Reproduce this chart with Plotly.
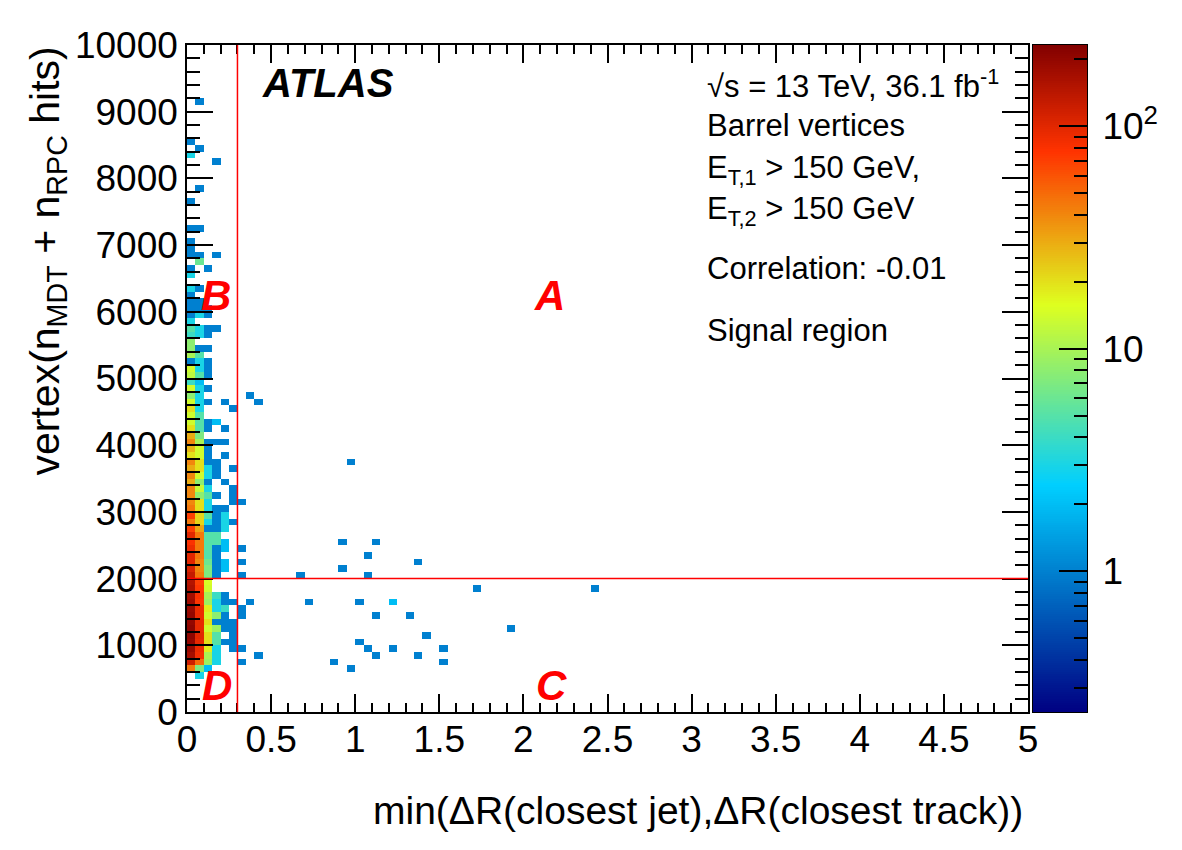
import numpy as np
import plotly.graph_objects as go

# ---------------- data ----------------
X_EDGES = np.round(np.arange(0, 5.0001, 0.05), 3)      # min dR bins
Y_EDGES = np.arange(0, 10001, 100)                       # hits bins

# counts in the first six dR columns, one value per 100-hit bin starting at 0
col_000 = [0,0,0,0,0,0,45,120,170,190, 200,210,210,200,200,190,180,170,160,150,
           130,110,100,100,90,80,100,70,45,70, 45,40,40,40,30,40,30,40,20,28,
           40,30,20,14,14,20,14,8,14,4, 12,14,1,10,8,8,4,5,3,1,
           1,1,1,3,0,3,1,0,1,1, 1,0,1,0,0,0,1,0,0,0, 0,0,0,3,0,1,0,0,0,0, 0,0]
col_005 = [0,0,0,0,0,3,7,50,85,90, 95,100,95,95,90,90,75,80,75,70,
           45,40,40,45,45,45,45,32,22,22, 20,20,8,13,8,14,20,20,14,14,
           10,7,5,5,5,3,3,3,3,2, 5,3,3,5,1,0,3,3,0,3,
           1,1,0,1,0,0,0,6,1,0, 0,0,1,0,0,0,0,0,1,0, 0,0,0,0,1,0,0,0,0,0, 0,1]
col_010 = [0,0,0,0,0,0,2,9,10,18, 20,20,14,20,14,18,9,10,14,15,
           7,7,6,5,5,5,5,1,3,5, 3,3,5,3,1,3,3,1,1,1,
           1,0,1,1,0,0,1,0,1,0, 1,1,1,0,1,0,1,1,0,1, 1,0,0,0,0,0,1,0,0,0]
col_015 = [0,0,0,0,0,0,0,3,3,3, 5,5,9,1,8,3,3,4,0,0,
           1,1,1,1,1,5,5,1,1,1, 1,0,1,0,0,1,1,1,0,0,
           1,0,0,2,0,0,0,0,0,0, 0,0,0,0,0,0,0,1,0,0,
           0,0,0,0,0,0,0,0,1,0, 0,0,0,0,0,0,0,0,0,0, 0,0,1,0]
col_020 = [0,0,0,0,0,0,0,0,0,0, 1,0,1,1,1,4,1,1,0,0,
           0,2,2,0,2,2,0,3,3,3, 1,0,0,0,1,0,0,0,1,0, 1,0,1,0,0,0,1,0,0,0]
col_025 = [0,0,0,0,0,0,0,0,0,1, 1,1,1,1,0,0,1,0,0,0,
           0,0,0,0,0,0,0,0,1,0, 0,1,1,1,0,0,1,0,0,0, 0,0,0,0,0,1,0,0,0,0]
dense_cols = [col_000, col_005, col_010, col_015, col_020, col_025]

# isolated bins at larger dR: lower bin edge in dR, lower bin edge in hits, count
iso_dr   = [0.30,0.30,0.30,0.30,0.30,0.30,0.30,0.30,0.35,0.35,0.40,0.40,0.65,0.70,0.85,
            0.90,0.90,0.95,0.95,1.00,1.00,1.05,1.05,1.05,1.10,1.10,1.10,1.20,1.20,1.30,
            1.35,1.35,1.40,1.50,1.50,1.70,1.90,2.40]
iso_hits = [3100,2400,2200,2000,1500,1400,900,700,4700,1600,4600,800,2000,1600,700,
            2500,2100,3700,600,1600,1000,2300,2000,900,2500,1400,800,1600,900,1400,
            2200,800,1100,900,700,1800,1200,1800]
iso_n    = [1]*27 + [2] + [1]*10

DR_CUT = 0.3
HITS_CUT = 2000
Z_LOG_RANGE = (-0.632, 2.366)

# ---------------- build histogram ----------------
nx, ny = len(X_EDGES) - 1, len(Y_EDGES) - 1
counts = np.zeros((ny, nx))
for i, col in enumerate(dense_cols):
    counts[:len(col), i] = col
for dr, h, n in zip(iso_dr, iso_hits, iso_n):
    i = int(round(dr / 0.05))
    j = int(round(h / 100))
    counts[j, i] += n
zlog = np.full(counts.shape, np.nan)
mask = counts > 0
zlog[mask] = np.log10(counts[mask])

palette = [[0.00, "rgb(0,0,130)"], [0.34, "rgb(0,207,255)"], [0.61, "rgb(222,255,31)"],
           [0.84, "rgb(255,51,0)"], [1.00, "rgb(130,0,0)"]]

FONT = "Liberation Sans, Arial, Helvetica, sans-serif"
W, H = 1182, 850
ML, MR, MT, MB = 187, 87, 45, 138
PW = W - ML - MR
PH = H - MT - MB
def px(x):
    return (x - ML) / PW
def py(y):
    return (H - MB - y) / PH

fig = go.Figure()
fig.add_trace(go.Heatmap(x=X_EDGES, y=Y_EDGES, z=zlog, colorscale=palette,
                         zmin=Z_LOG_RANGE[0], zmax=Z_LOG_RANGE[1], showscale=False,
                         hoverinfo="skip", xaxis="x", yaxis="y"))

# colour scale drawn as its own axis
nb = 300
cb_edges = np.linspace(Z_LOG_RANGE[0], Z_LOG_RANGE[1], nb + 1)
cb_mid = 0.5 * (cb_edges[1:] + cb_edges[:-1])
fig.add_trace(go.Heatmap(x=[0, 1], y=cb_edges, z=cb_mid.reshape(-1, 1), colorscale=palette,
                         zmin=Z_LOG_RANGE[0], zmax=Z_LOG_RANGE[1], showscale=False,
                         hoverinfo="skip", xaxis="x3", yaxis="y3"))

minor_logs = [float(np.log10(v)) for v in [0.3,0.4,0.5,0.6,0.7,0.8,0.9,2,3,4,5,6,7,8,9,
                                           20,30,40,50,60,70,80,90,200]]

tickfont = dict(family=FONT, size=37, color="black")
fig.update_layout(
    width=W, height=H, margin=dict(l=ML, r=MR, t=MT, b=MB),
    paper_bgcolor="white", plot_bgcolor="white", showlegend=False,
    xaxis=dict(domain=[0, px(1028)], range=[0, 5], anchor="y", dtick=0.5, tick0=0,
               ticks="inside", ticklen=18, tickwidth=1.5, tickcolor="black",
               minor=dict(dtick=0.1, ticks="inside", ticklen=9, tickwidth=1.5, tickcolor="black"),
               showline=True, linecolor="black", linewidth=1.5, mirror="allticks",
               showgrid=False, zeroline=False, tickfont=tickfont, automargin=False,
               ticklabelstandoff=-6),
    yaxis=dict(domain=[0, 1], range=[0, 10000], anchor="x", dtick=1000, tick0=0,
               tickformat="d", ticks="inside", ticklen=26, tickwidth=1.5, tickcolor="black",
               minor=dict(dtick=200, ticks="inside", ticklen=13, tickwidth=1.5, tickcolor="black"),
               showline=True, linecolor="black", linewidth=1.5, mirror="allticks",
               showgrid=False, zeroline=False, tickfont=tickfont, automargin=False),
    xaxis3=dict(domain=[px(1033), px(1087)], range=[0, 1], anchor="y3", showticklabels=False,
                ticks="", showline=True, linecolor="black", linewidth=1, mirror=True,
                showgrid=False, zeroline=False, automargin=False),
    yaxis3=dict(domain=[0, 1], range=list(Z_LOG_RANGE), anchor="x3", side="right",
                tickvals=[0, 1, 2], ticktext=["1", "10", "10<sup>2</sup>"],
                ticks="inside", ticklen=28, tickwidth=1.5, tickcolor="black",
                minor=dict(tickvals=minor_logs, ticks="inside", ticklen=13, tickwidth=1.5,
                           tickcolor="black"),
                showline=True, linecolor="black", linewidth=1, mirror=True,
                showgrid=False, zeroline=False, tickfont=tickfont, automargin=False,
                ticklabelstandoff=7),
)

# cut lines
fig.add_shape(type="line", xref="x", yref="y", x0=DR_CUT, x1=DR_CUT, y0=0, y1=10000,
              line=dict(color="red", width=1.5))
fig.add_shape(type="line", xref="x", yref="y", x0=0, x1=5, y0=HITS_CUT, y1=HITS_CUT,
              line=dict(color="red", width=1.5))

def ann(text, x, y, size, xanchor="left", yanchor="middle", color="black", bold=False,
        italic=False, angle=0):
    fig.add_annotation(text=text, x=x, y=y, xref="paper", yref="paper", showarrow=False,
                       xanchor=xanchor, yanchor=yanchor, textangle=angle,
                       font=dict(family=FONT, size=size, color=color,
                                 weight="bold" if bold else "normal",
                                 style="italic" if italic else "normal"))

ann("ATLAS", px(260), py(83), 40, bold=True, italic=True)
ann("√s = 13 TeV, 36.1 fb<sup>-1</sup>", px(705), py(84), 31)
ann("Barrel vertices", px(705), py(125), 31)
ann("E<sub>T,1</sub> &gt; 150 GeV,", px(705), py(170), 31)
ann("E<sub>T,2</sub> &gt; 150 GeV", px(705), py(211), 31)
ann("Correlation: -0.01", px(705), py(268), 31)
ann("Signal region", px(705), py(330), 31)

for letter, cx, cy in [("A", 549, 295), ("B", 216, 295), ("C", 551, 685), ("D", 217, 685)]:
    ann(letter, px(cx), py(cy), 42, xanchor="center", color="red", bold=True, italic=True)

ann("min(ΔR(closest jet),ΔR(closest track))", px(1025), py(810), 39, xanchor="right")
ann("vertex(n<sub>MDT</sub> + n<sub>RPC</sub> hits)", px(47), py(45), 41,
    xanchor="center", yanchor="top", angle=-90)

fig.write_html("out.html")
